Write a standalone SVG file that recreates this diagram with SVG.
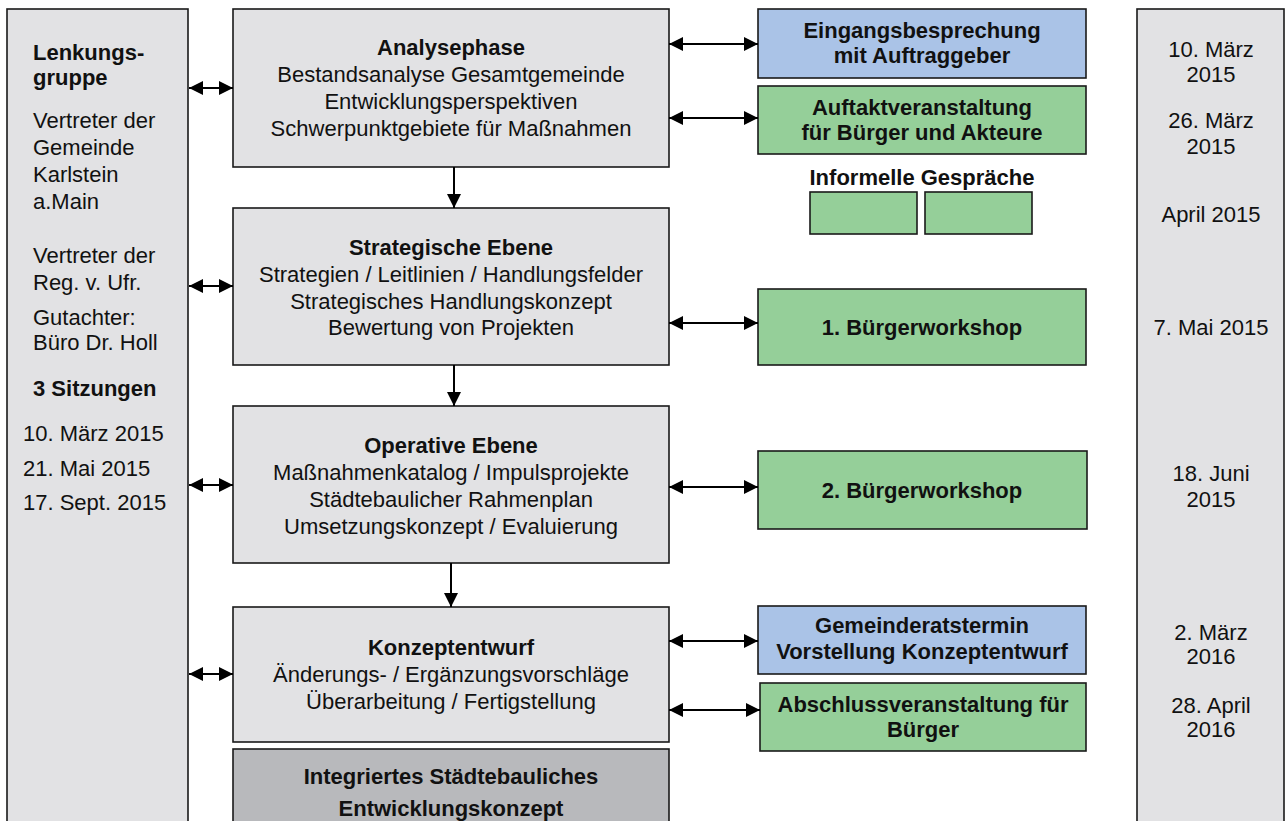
<svg xmlns="http://www.w3.org/2000/svg" width="1287" height="821" viewBox="0 0 1287 821">
<defs>
<marker id="ah" markerUnits="userSpaceOnUse" markerWidth="15" markerHeight="15" refX="14" refY="7" orient="auto-start-reverse" viewBox="0 0 15 15">
<path d="M0,0 L14,7 L0,14 z" fill="#000"/>
</marker>
</defs>
<style>
.box{stroke:#1a1a1a;stroke-width:1.6}
.g{fill:#e2e2e4}
.dg{fill:#b8b9bc}
.bl{fill:#aac3e7}
.gr{fill:#95cf99}
text{font-family:"Liberation Sans",Arial,sans-serif;font-size:22px;fill:#111}
.b{font-weight:bold}
.c{text-anchor:middle}
.con{stroke:#000;stroke-width:2;fill:none}
</style>
<rect width="1287" height="821" fill="#fff"/>
<g id="lenkungsgruppe">
<rect class="box g" x="7" y="9" width="181" height="840"/>
<text class="b" x="33" y="60">Lenkungs-</text>
<text class="b" x="33" y="85">gruppe</text>
<text x="33" y="128">Vertreter der</text>
<text x="33" y="155">Gemeinde</text>
<text x="33" y="182">Karlstein</text>
<text x="33" y="209">a.Main</text>
<text x="33" y="263">Vertreter der</text>
<text x="33" y="290">Reg. v. Ufr.</text>
<text x="33" y="325">Gutachter:</text>
<text x="33" y="350">Büro Dr. Holl</text>
<text class="b" x="33" y="396">3 Sitzungen</text>
<text x="23" y="441">10. März 2015</text>
<text x="23" y="476">21. Mai 2015</text>
<text x="23" y="510">17. Sept. 2015</text>
</g>
<g id="analysephase">
<rect class="box g" x="233" y="9" width="436" height="158"/>
<text class="b c" x="451" y="55">Analysephase</text>
<text class="c" x="451" y="82">Bestandsanalyse Gesamtgemeinde</text>
<text class="c" x="451" y="109">Entwicklungsperspektiven</text>
<text class="c" x="451" y="136">Schwerpunktgebiete für Maßnahmen</text>
</g>
<g id="strategische-ebene">
<rect class="box g" x="233" y="208" width="436" height="157"/>
<text class="b c" x="451" y="255">Strategische Ebene</text>
<text class="c" x="451" y="282">Strategien / Leitlinien / Handlungsfelder</text>
<text class="c" x="451" y="309">Strategisches Handlungskonzept</text>
<text class="c" x="451" y="335">Bewertung von Projekten</text>
</g>
<g id="operative-ebene">
<rect class="box g" x="233" y="406" width="436" height="157"/>
<text class="b c" x="451" y="453">Operative Ebene</text>
<text class="c" x="451" y="480">Maßnahmenkatalog / Impulsprojekte</text>
<text class="c" x="451" y="507">Städtebaulicher Rahmenplan</text>
<text class="c" x="451" y="534">Umsetzungskonzept / Evaluierung</text>
</g>
<g id="konzeptentwurf">
<rect class="box g" x="233" y="607" width="436" height="135"/>
<text class="b c" x="451" y="655">Konzeptentwurf</text>
<text class="c" x="451" y="682">Änderungs- / Ergänzungsvorschläge</text>
<text class="c" x="451" y="709">Überarbeitung / Fertigstellung</text>
</g>
<g id="isek">
<rect class="box dg" x="233" y="749" width="436" height="100"/>
<text class="b c" x="451" y="784">Integriertes Städtebauliches</text>
<text class="b c" x="451" y="816">Entwicklungskonzept</text>
</g>
<g id="eingangsbesprechung">
<rect class="box bl" x="758" y="9" width="328" height="69"/>
<text class="b c" x="922" y="38">Eingangsbesprechung</text>
<text class="b c" x="922" y="63">mit Auftraggeber</text>
</g>
<g id="auftaktveranstaltung">
<rect class="box gr" x="758" y="86" width="328" height="68"/>
<text class="b c" x="922" y="115">Auftaktveranstaltung</text>
<text class="b c" x="922" y="140">für Bürger und Akteure</text>
</g>
<g id="informelle-gespraeche">
<text class="b c" x="922" y="185">Informelle Gespräche</text>
<rect class="box gr" x="810" y="192" width="107" height="42"/>
<rect class="box gr" x="925" y="192" width="107" height="42"/>
</g>
<g id="buergerworkshop-1">
<rect class="box gr" x="758" y="289" width="328" height="76"/>
<text class="b c" x="922" y="335">1. Bürgerworkshop</text>
</g>
<g id="buergerworkshop-2">
<rect class="box gr" x="758" y="451" width="329" height="78"/>
<text class="b c" x="922" y="498">2. Bürgerworkshop</text>
</g>
<g id="gemeinderatstermin">
<rect class="box bl" x="758" y="606" width="328" height="68"/>
<text class="b c" x="922" y="633">Gemeinderatstermin</text>
<text class="b c" x="922" y="659">Vorstellung Konzeptentwurf</text>
</g>
<g id="abschlussveranstaltung">
<rect class="box gr" x="760" y="683" width="326" height="68"/>
<text class="b c" x="923" y="712">Abschlussveranstaltung für</text>
<text class="b c" x="923" y="737">Bürger</text>
</g>
<g id="termine">
<rect class="box g" x="1137" y="9" width="147" height="840"/>
<text class="c" x="1211" y="57">10. März</text>
<text class="c" x="1211" y="82">2015</text>
<text class="c" x="1211" y="128">26. März</text>
<text class="c" x="1211" y="154">2015</text>
<text class="c" x="1211" y="222">April 2015</text>
<text class="c" x="1211" y="335">7. Mai 2015</text>
<text class="c" x="1211" y="481">18. Juni</text>
<text class="c" x="1211" y="507">2015</text>
<text class="c" x="1211" y="640">2. März</text>
<text class="c" x="1211" y="664">2016</text>
<text class="c" x="1211" y="713">28. April</text>
<text class="c" x="1211" y="737">2016</text>
</g>
<g id="connectors">
<path class="con" d="M189,88 H233" marker-start="url(#ah)" marker-end="url(#ah)"/>
<path class="con" d="M189,286 H233" marker-start="url(#ah)" marker-end="url(#ah)"/>
<path class="con" d="M189,485 H233" marker-start="url(#ah)" marker-end="url(#ah)"/>
<path class="con" d="M189,674 H233" marker-start="url(#ah)" marker-end="url(#ah)"/>
<path class="con" d="M454,167 V208" marker-end="url(#ah)"/>
<path class="con" d="M454,365 V406" marker-end="url(#ah)"/>
<path class="con" d="M451,563 V607" marker-end="url(#ah)"/>
<path class="con" d="M669,44 H758" marker-start="url(#ah)" marker-end="url(#ah)"/>
<path class="con" d="M669,118 H758" marker-start="url(#ah)" marker-end="url(#ah)"/>
<path class="con" d="M669,323 H758" marker-start="url(#ah)" marker-end="url(#ah)"/>
<path class="con" d="M669,487 H758" marker-start="url(#ah)" marker-end="url(#ah)"/>
<path class="con" d="M669,641 H758" marker-start="url(#ah)" marker-end="url(#ah)"/>
<path class="con" d="M669,710 H760" marker-start="url(#ah)" marker-end="url(#ah)"/>
</g>
</svg>
